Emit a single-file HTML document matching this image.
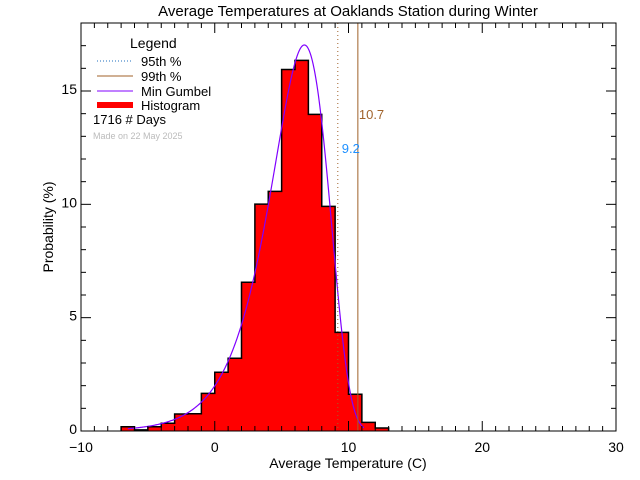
<!DOCTYPE html>
<html><head><meta charset="utf-8"><style>
html,body{margin:0;padding:0;background:#fff}
svg{display:block;font-family:"Liberation Sans",sans-serif}
</style></head><body>
<svg id="chart" width="640" height="480" viewBox="0 0 640 480" xmlns="http://www.w3.org/2000/svg">
<rect width="640" height="480" fill="#fff"/>
<text x="348" y="16" font-size="15" text-anchor="middle">Average Temperatures at Oaklands Station during Winter</text>
<g id="bars"></g>
<g id="curve"></g>
<g id="pct"></g>
<g id="axes"></g>
<text x="348" y="468" font-size="14" text-anchor="middle">Average Temperature (C)</text>
<text transform="translate(52,227) rotate(90)" font-size="14" text-anchor="middle" style="display:none">Probability (%)</text>
<text transform="translate(53,227) rotate(-90)" font-size="14" text-anchor="middle">Probability (%)</text>
<g>
<text x="130" y="48" font-size="14">Legend</text>
<line x1="97" y1="61" x2="133" y2="61" stroke="#1f6fbf" stroke-dasharray="1,2"/>
<text x="141" y="66" font-size="13">95th %</text>
<line x1="97" y1="76" x2="133" y2="76" stroke="#a0622a"/>
<text x="141" y="81" font-size="13">99th %</text>
<line x1="97" y1="91" x2="133" y2="91" stroke="#8000ff"/>
<text x="141" y="96" font-size="13">Min Gumbel</text>
<rect x="97" y="102" width="36" height="6" fill="#ff0000"/>
<text x="141" y="110" font-size="13">Histogram</text>
<text x="93" y="124" font-size="13">1716   # Days</text>
<text x="93" y="139" font-size="9" fill="#bbb">Made on 22 May 2025</text>
</g>
</svg>
<script>
const binStarts=[-7,-6,-5,-4,-3,-2,-1,0,1,2,3,4,5,6,7,8,9,10,11,12];
const binValues=[0.19,0.05,0.19,0.34,0.75,0.76,1.66,2.59,3.21,6.56,10.01,10.57,15.95,16.35,13.97,9.91,4.35,1.62,0.38,0.13];
const gumbelMu=[6.7];
const gumbelBeta=[2.16];
const percentiles=[9.2,10.7];
const percentileLabels=["9.2","10.7"];
const xTicks=[-10,0,10,20,30];
const yTicks=[0,5,10,15];
const X0=81,X1=616,Y0=431,Y1=23,xmin=-10,xmax=30,ymin=0,ymax=18;
const sx=v=>X0+(v-xmin)/(xmax-xmin)*(X1-X0);
const sy=v=>Y0-(v-ymin)/(ymax-ymin)*(Y0-Y1);
const NS="http://www.w3.org/2000/svg";
function mk(t,a,p){const e=document.createElementNS(NS,t);for(const k in a)e.setAttribute(k,a[k]);p.appendChild(e);return e;}
const bars=document.getElementById('bars');
let d="M"+sx(binStarts[0])+","+sy(0);
binStarts.forEach((b,i)=>{
 const r=mk('rect',{x:sx(b)-0.3,y:sy(binValues[i]),width:sx(b+1)-sx(b)+0.6,height:sy(0)-sy(binValues[i]),fill:'#ff0000'},bars);
 
 
 d+=" L"+sx(b)+","+sy(binValues[i])+" L"+sx(b+1)+","+sy(binValues[i]);
});
d+=" L"+sx(binStarts[binStarts.length-1]+1)+","+sy(0);
const outline=mk('path',{d:d,fill:'none',stroke:'#000','stroke-width':1.5},bars);


let cd="";
for(let x=-6.5;x<=11.2;x+=0.05){
 const z=(x-gumbelMu[0])/gumbelBeta[0];
 const f=100/gumbelBeta[0]*Math.exp(z)*Math.exp(-Math.exp(z));
 cd+=(cd?" L":"M")+sx(x).toFixed(2)+","+sy(f).toFixed(2);
}
const cv=mk('path',{d:cd,fill:'none',stroke:'#8000ff','stroke-width':1.2},document.getElementById('curve'));


const pg=document.getElementById('pct');
const l1=mk('line',{x1:sx(percentiles[0]),x2:sx(percentiles[0]),y1:Y1,y2:Y0,stroke:'#a0622a','stroke-dasharray':'1,3'},pg);


const l2=mk('line',{x1:sx(percentiles[1]),x2:sx(percentiles[1]),y1:Y1,y2:Y0,stroke:'#a0622a'},pg);


const t1=mk('text',{x:sx(percentiles[0])+4,y:153,'font-size':13,fill:'#1e90ff'},pg);t1.textContent=percentileLabels[0];


const t2=mk('text',{x:sx(percentiles[1])+1,y:119,'font-size':13,fill:'#a0622a'},pg);t2.textContent=percentileLabels[1];


const ax=document.getElementById('axes');
const box=mk('rect',{x:X0,y:Y1,width:X1-X0,height:Y0-Y1,fill:'none',stroke:'#000'},ax);


for(let v=xmin;v<=xmax;v++){
 const L=(v%10===0)?10:5;
 mk('line',{x1:sx(v),x2:sx(v),y1:Y0,y2:Y0-L,stroke:'#000'},ax);
 mk('line',{x1:sx(v),x2:sx(v),y1:Y1,y2:Y1+L,stroke:'#000'},ax);
}
for(let v=ymin;v<=ymax;v++){
 const L=(v%5===0)?10:5;
 mk('line',{x1:X0,x2:X0+L,y1:sy(v),y2:sy(v),stroke:'#000'},ax);
 mk('line',{x1:X1,x2:X1-L,y1:sy(v),y2:sy(v),stroke:'#000'},ax);
}
xTicks.forEach(v=>{const t=mk('text',{x:sx(v),y:452,'font-size':14,'text-anchor':'middle'},ax);t.textContent=(v<0?'\u2212':'')+Math.abs(v);
 
 });
yTicks.forEach(v=>{const t=mk('text',{x:X0-4,y:sy(v)+3,'font-size':14,'text-anchor':'end'},ax);t.textContent=v;
 
 });
</script>
</body></html>
